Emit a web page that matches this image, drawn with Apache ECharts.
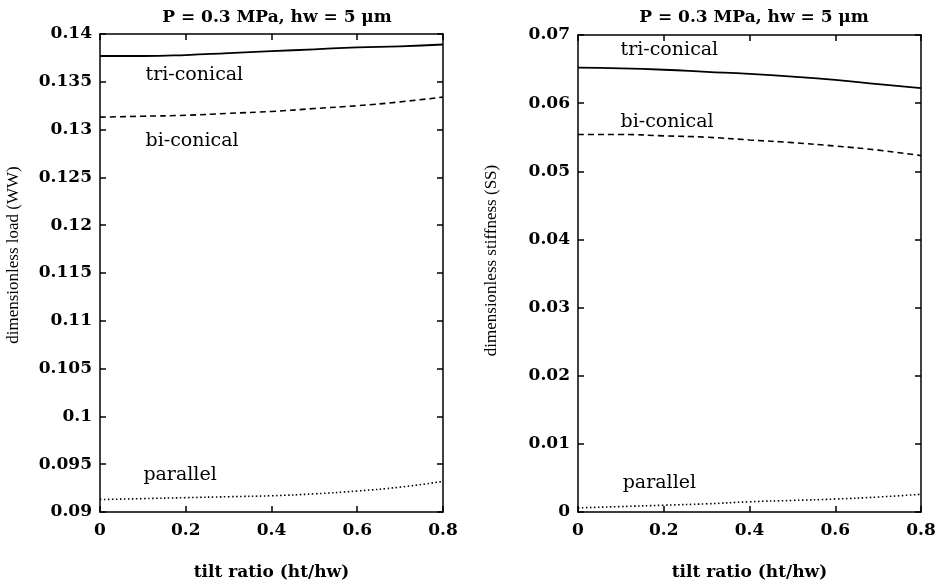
<!DOCTYPE html>
<html><head><meta charset="utf-8">
<script src="https://cdn.jsdelivr.net/npm/echarts@6/dist/echarts.min.js"></script>
<style>html,body{margin:0;padding:0;background:#fff}#c{width:943px;height:586px}</style>
</head><body><div id="c"></div>
<script>
const tilt = [0, 0.1, 0.2, 0.3, 0.4, 0.5, 0.6, 0.7, 0.8];
const loadTri = [0.1377, 0.1377, 0.1378, 0.1380, 0.1382, 0.1384, 0.1386, 0.1387, 0.1389];
const loadBi = [0.1313, 0.1314, 0.1315, 0.1317, 0.1319, 0.1322, 0.1325, 0.1329, 0.1334];
const loadPar = [0.0913, 0.0914, 0.0915, 0.0916, 0.0917, 0.0919, 0.0922, 0.0926, 0.0932];
const stiffTri = [0.0652, 0.0651, 0.0649, 0.0646, 0.0643, 0.0639, 0.0634, 0.0628, 0.0622];
const stiffBi = [0.0554, 0.0554, 0.0552, 0.0550, 0.0546, 0.0542, 0.0537, 0.0531, 0.0523];
const stiffPar = [0.0006, 0.0008, 0.0010, 0.0012, 0.0015, 0.0017, 0.0019, 0.0022, 0.0026];
const titleText = 'P = 0.3 MPa, hw = 5 \u03bcm';
const xName = 'tilt ratio (ht/hw)';
const yNames = ['dimensionless load (WW)', 'dimensionless stiffness (SS)'];
const curveLabels = ['tri-conical', 'bi-conical', 'parallel'];

const serif = '"DejaVu Serif", serif';
const pair = (xs, ys) => xs.map((x, i) => [x, ys[i]]);

function axesFor(gi, min, max, interval, yName, decimals, nameShift) {
  const tickIn = {show: true, inside: true, length: 6, lineStyle: {color: '#000', width: 1.5}};
  const line = {show: true, onZero: false, lineStyle: {color: '#000', width: 1.5}};
  return {
    x: [
      {type: 'value', gridIndex: gi, min: 0, max: 0.8, interval: 0.2, position: 'bottom',
       axisLine: line, axisTick: tickIn, splitLine: {show: false},
       axisLabel: {color: '#000', fontFamily: serif, fontSize: 17, fontWeight: 'bold', margin: 10,
                   formatter: v => String(+v.toFixed(1))},
       name: xName, nameLocation: 'middle', nameGap: 52,
       nameTextStyle: {color: '#000', fontFamily: serif, fontSize: 17, fontWeight: 'bold'}},
      {type: 'value', gridIndex: gi, min: 0, max: 0.8, interval: 0.2, position: 'top',
       axisLine: line, axisTick: tickIn, axisLabel: {show: false}, splitLine: {show: false}}
    ],
    y: [
      {type: 'value', gridIndex: gi, min: min, max: max, interval: interval, position: 'left',
       axisLine: line, axisTick: tickIn, splitLine: {show: false},
       axisLabel: {color: '#000', fontFamily: serif, fontSize: 17, fontWeight: 'bold', margin: 8,
                   formatter: v => String(+v.toFixed(decimals))},
       name: yName, nameLocation: 'middle', nameGap: 78,
       nameTextStyle: {color: '#000', fontFamily: '"Liberation Serif", serif', fontSize: 17,
                       padding: [0, 0, 0, nameShift]}},
      {type: 'value', gridIndex: gi, min: min, max: max, interval: interval, position: 'right',
       axisLine: line, axisTick: tickIn, axisLabel: {show: false}, splitLine: {show: false}}
    ]
  };
}

const a0 = axesFor(0, 0.09, 0.14, 0.005, yNames[0], 3, 36);
const a1 = axesFor(1, 0, 0.07, 0.01, yNames[1], 2, 26);

function lineSeries(xi, yi, data, type, label, labelPos) {
  return {
    type: 'line', xAxisIndex: xi, yAxisIndex: yi, data: data, showSymbol: false,
    symbol: 'none', smooth: true, silent: true,
    lineStyle: {color: '#000', width: type === 'solid' ? 1.8 : 1.6, type: type},
    markPoint: {
      symbol: 'rect', symbolSize: 1, itemStyle: {color: 'rgba(0,0,0,0)'},
      label: {show: true, formatter: label, color: '#000', fontFamily: serif, fontSize: 19,
              position: 'right', distance: 0},
      data: [{coord: labelPos}]
    }
  };
}

const option = {
  animation: false,
  backgroundColor: '#fff',
  title: [
    {text: titleText, left: 272, top: 4, textAlign: 'center',
     textStyle: {color: '#000', fontFamily: serif, fontSize: 17, fontWeight: 'bold'}},
    {text: titleText, left: 749, top: 4, textAlign: 'center',
     textStyle: {color: '#000', fontFamily: serif, fontSize: 17, fontWeight: 'bold'}}
  ],
  grid: [
    {left: 100, right: 500, top: 34, bottom: 72},
    {left: 578, right: 22, top: 35, bottom: 71}
  ],
  xAxis: [...a0.x, ...a1.x],
  yAxis: [...a0.y, ...a1.y],
  series: [
    lineSeries(0, 0, pair(tilt, loadTri), 'solid', curveLabels[0], [0.105, 0.1357]),
    lineSeries(0, 0, pair(tilt, loadBi), [6, 4], curveLabels[1], [0.105, 0.1288]),
    lineSeries(0, 0, pair(tilt, loadPar), [1.5, 2.5], curveLabels[2], [0.1, 0.0939]),
    lineSeries(2, 2, pair(tilt, stiffTri), 'solid', curveLabels[0], [0.098, 0.0678]),
    lineSeries(2, 2, pair(tilt, stiffBi), [6, 4], curveLabels[1], [0.098, 0.0572]),
    lineSeries(2, 2, pair(tilt, stiffPar), [1.5, 2.5], curveLabels[2], [0.103, 0.0042])
  ]
};
const chart = echarts.init(document.getElementById('c'), null, {renderer: 'canvas'});
chart.setOption(option);
</script>
</body></html>
